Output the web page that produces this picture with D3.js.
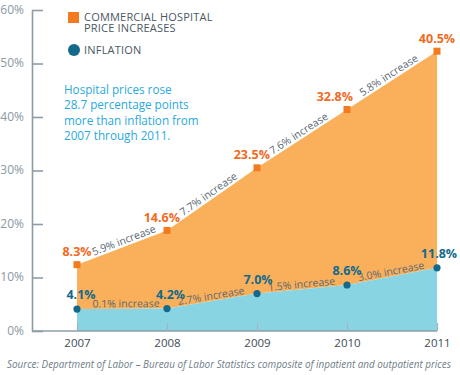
<!DOCTYPE html>
<html><head><meta charset="utf-8">
<script src="https://cdn.jsdelivr.net/npm/d3@7"></script>
<style>
html,body{margin:0;padding:0;background:#fff;}
svg{display:block;font-family:"Open Sans",sans-serif;}
</style></head>
<body>
<svg id="c" width="460" height="375"></svg>
<script>
const years = ["2007","2008","2009","2010","2011"];
const hospital = [8.3, 14.6, 23.5, 32.8, 40.5];
const inflation = [4.1, 4.2, 7.0, 8.6, 11.8];
const hospitalIncrease = ["5.9% increase","7.7% increase","7.6% increase","5.8% increase"];
const inflationIncrease = ["0.1% increase","2.7% increase","1.5% increase","3.0% increase"];
const yTicks = [0,10,20,30,40,50,60];
const legendLabels = [["COMMERCIAL HOSPITAL","PRICE INCREASES"],["INFLATION"]];
const callout = ["Hospital prices rose","28.7 percentage points","more than inflation from","2007 through 2011."];
const source = "Source: Department of Labor \u2013 Bureau of Labor Statistics composite of inpatient and outpatient prices";

const C = {orangeArea:"#FAB05A", orange:"#F47A20", orangeText:"#F26A1E", blueArea:"#89D4E3",
  blue:"#13698C", axis:"#8E9CA6", tickText:"#8A98A3", grey:"#5B6975", callout:"#2AA9DE", year:"#3E4B55"};

const svg = d3.select("#c");
const x = d3.scalePoint().domain(years).range([77, 437]);
const y = d3.scaleLinear().domain([0, 60]).range([331, 10]);

const table = years.map((yr, i) => ({year: yr, inflation: inflation[i], hospital: hospital[i]}));
const stack = d3.stack().keys(["inflation","hospital"])(table);

const area = d3.area().x(d => x(d.data.year)).y0(d => y(d[0])).y1(d => y(d[1]));
svg.append("path").datum(stack[1]).attr("d", area).attr("fill", C.orangeArea);
svg.append("path").datum(stack[0]).attr("d", area).attr("fill", C.blueArea);

// axes
const yAxis = svg.append("g").attr("transform","translate(32,0)")
  .call(d3.axisLeft(y).tickValues(yTicks).tickFormat(d => d + "%").tickSizeInner(-11).tickSizeOuter(0).tickPadding(8));
yAxis.select(".domain").attr("stroke", C.axis).attr("stroke-width", 1.6);
yAxis.selectAll(".tick line").attr("stroke", C.axis).attr("stroke-width", 1.6);
yAxis.selectAll(".tick text").attr("fill", C.tickText).style("font-size","12px").style("font-family","Open Sans").attr("dy","0.28em");

const xAxis = svg.append("g").attr("transform","translate(0,331)")
  .call(d3.axisBottom(x).tickSizeInner(-8).tickSizeOuter(0).tickPadding(8));
xAxis.select(".domain").attr("d", `M32,0H${x("2011")}`).attr("stroke", C.axis).attr("stroke-width", 1.6);
xAxis.selectAll(".tick line").attr("stroke", "#9fb4bd").attr("stroke-width", 1.2);
xAxis.selectAll(".tick text").attr("fill", C.year).style("font-size","11.5px").style("font-family","Open Sans");

// increase annotations
function segLabels(vals, labels, off) {
  const g = svg.append("g");
  labels.forEach((t, i) => {
    const x1 = x(years[i]), y1 = y(vals[i]), x2 = x(years[i+1]), y2 = y(vals[i+1]);
    const ang = Math.atan2(y2 - y1, x2 - x1) * 180 / Math.PI;
    const shift = i === 0 ? 4 : 0;
    const mx = (x1 + x2) / 2 + shift, my = (y1 + y2) / 2 + (y2 - y1) / (x2 - x1) * shift;
    g.append("text").attr("transform", `translate(${mx},${my}) rotate(${ang})`)
      .attr("text-anchor","middle").attr("dy", off).attr("fill", C.grey)
      .style("font-size","10.5px").text(t);
  });
}
const topVals = stack[1].map(d => d[1]);
segLabels(topVals, hospitalIncrease, -2.5);
segLabels(inflation, inflationIncrease, -1.5);

// markers
svg.append("g").selectAll("rect").data(stack[1]).join("rect")
  .attr("x", d => x(d.data.year) - 3.5).attr("y", d => y(d[1]) - 3.5)
  .attr("width", 7).attr("height", 7).attr("fill", C.orange);
svg.append("g").selectAll("circle").data(stack[0]).join("circle")
  .attr("cx", d => x(d.data.year)).attr("cy", d => y(d[1])).attr("r", 3.6).attr("fill", C.blue);

// value labels
svg.append("g").selectAll("text").data(stack[1]).join("text")
  .attr("x", (d, i) => x(d.data.year) + (i === 0 || i === 4 ? 0 : (i === 3 ? 6 : 13)))
  .attr("y", d => y(d[1]) - 8.5)
  .attr("text-anchor", (d, i) => (i === 0 || i === 4) ? "middle" : "end")
  .attr("fill", C.orangeText).style("font-size","12.5px").style("font-weight","bold")
  .text((d, i) => hospital[i].toFixed(1) + "%");
svg.append("g").selectAll("text").data(stack[0]).join("text")
  .attr("x", (d, i) => x(d.data.year) + [4, 3.5, 1, 0, 2][i])
  .attr("y", d => y(d[1]) - 10)
  .attr("text-anchor", "middle")
  .attr("fill", C.blue).style("font-size","12.5px").style("font-weight","bold")
  .text((d, i) => inflation[i].toFixed(1) + "%");

// legend
const lg = svg.append("g");
lg.append("rect").attr("x", 68).attr("y", 12).attr("width", 11).attr("height", 11).attr("fill", C.orange);
lg.append("circle").attr("cx", 74).attr("cy", 50).attr("r", 6).attr("fill", C.blue);
legendLabels[0].forEach((t, i) => lg.append("text").attr("x", 84).attr("y", 20.7 + i * 11.6)
  .attr("fill", "#4A5863").style("font-size","11px").style("letter-spacing","0.2px").text(t));
lg.append("text").attr("x", 84).attr("y", 54).attr("fill", "#4A5863").style("font-size","11px").style("letter-spacing","0.2px").text(legendLabels[1][0]);

// callout
callout.forEach((t, i) => svg.append("text").attr("x", 64).attr("y", 94 + i * 15.3)
  .attr("fill", C.callout).style("font-size","11.7px").text(t));

// source
svg.append("text").attr("x", 7).attr("y", 368).attr("fill", "#6E7D88")
  .style("font-size","9.9px").style("font-style","italic").text(source);
</script>
</body></html>
